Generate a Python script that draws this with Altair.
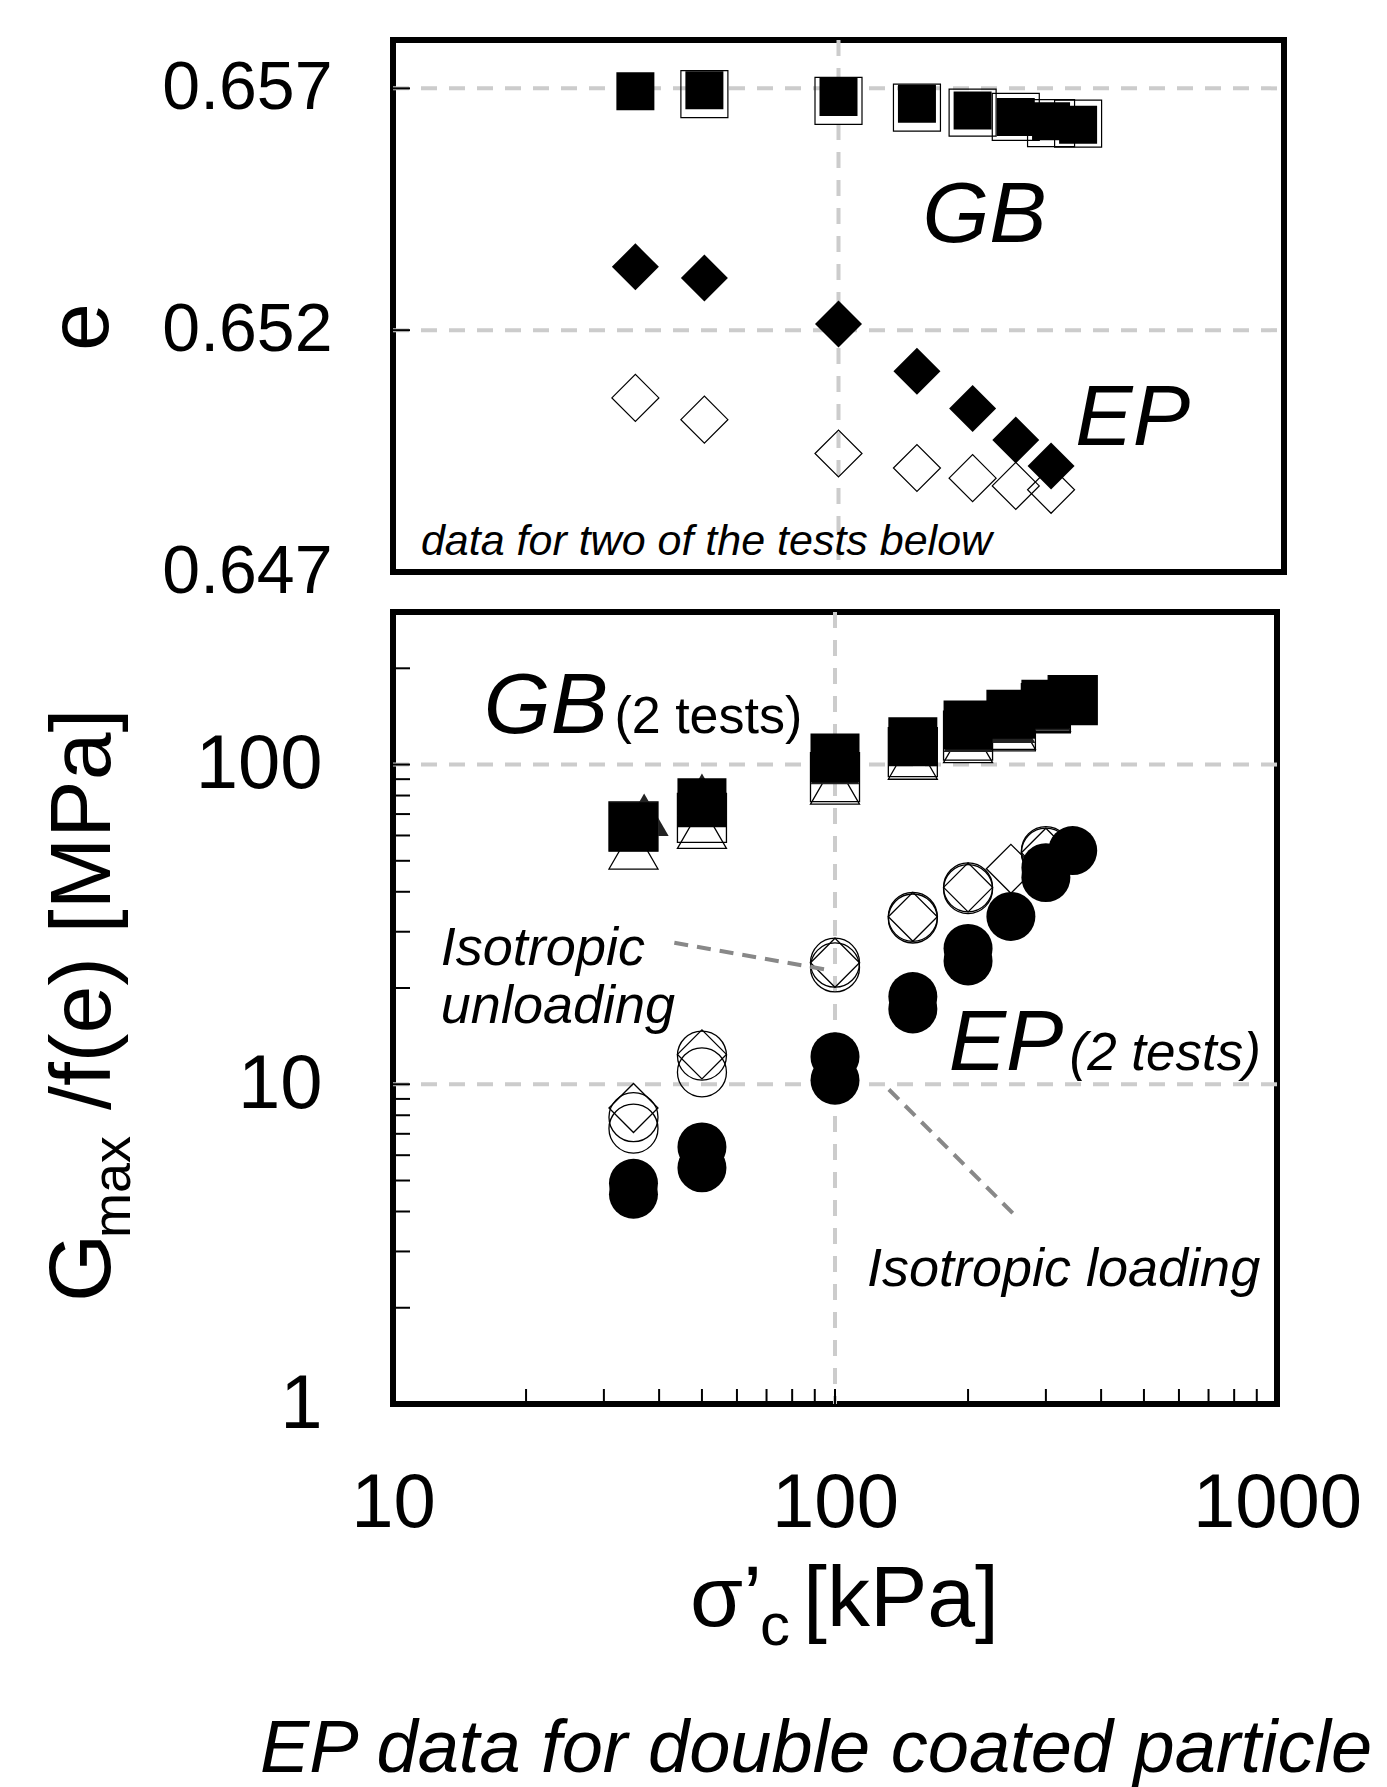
import altair as alt
import pandas as pd

FONT = "Liberation Sans, Arial, Helvetica, sans-serif"

# ---------------- upper panel : void ratio e ----------------
GB_E_LOAD_X = [35, 50, 100, 150, 200, 250, 300, 345]
GB_E_LOAD = [0.65694, 0.65696, 0.65682, 0.65668, 0.65654, 0.65641, 0.65632, 0.65625]
GB_E_UNLOAD_X = [50, 100, 150, 200, 250, 300, 345]
GB_E_UNLOAD = [0.65688, 0.65674, 0.65660, 0.65650, 0.65641, 0.65628, 0.65627]
EP_E_X = [35, 50, 100, 150, 200, 250, 300]
EP_E_LOAD = [0.65331, 0.65308, 0.65213, 0.65115, 0.65038, 0.64973, 0.64919]
EP_E_UNLOAD = [0.65060, 0.65015, 0.64945, 0.64915, 0.64894, 0.64878, 0.64870]

# ---------------- lower panel : Gmax / f(e) [MPa] ----------------
GB1_LOAD_X = [35, 50, 100, 150, 200, 250, 300, 345]
GB1_LOAD = [63.9, 75.9, 104.8, 117.9, 133.0, 143.7, 154.4, 159.7]
GB1_UNLOAD_X = [35, 50, 100, 150, 200, 250, 300, 345]
GB1_UNLOAD = [64.0, 68.1, 91.4, 109.4, 123.1, 131.6, 150.0, 159.0]
GB2_LOAD_X = [37, 50, 100, 150, 200, 250, 300, 345]
GB2_LOAD = [69.7, 80.5, 101.1, 116.7, 127.5, 136.0, 148.6, 158.0]
GB2_UNLOAD_X = [35, 50, 100, 150, 200, 250, 300]
GB2_UNLOAD = [54.9, 63.7, 87.6, 104.8, 118.1, 130.0, 148.0]

EP1_LOAD_X = [35, 50, 100, 150, 200, 250, 300, 345]
EP1_LOAD = [4.90, 6.37, 12.2, 18.8, 26.6, 33.5, 47.6, 53.8]
EP2_LOAD_X = [35, 50, 100, 150, 200, 300]
EP2_LOAD = [4.53, 5.48, 10.3, 17.2, 24.3, 44.3]
EP1_UNLOAD_X = [35, 50, 100, 150, 200, 300]
EP1_UNLOAD_A = [7.89, 12.3, 24.0, 33.4, 41.3, 53.6]
EP1_UNLOAD_B = [7.27, 10.9, 23.2, 33.0, 40.8, 53.0]
EP2_UNLOAD_X = [35, 50, 100, 150, 200, 250, 300]
EP2_UNLOAD = [8.43, 12.4, 24.0, 33.4, 41.3, 47.2, 53.0]

# leader lines (data coordinates)
UNLOAD_LEADER_X = [43.3, 96.1]
UNLOAD_LEADER_Y = [27.7, 22.8]
LOAD_LEADER_X = [132.4, 260.2]
LOAD_LEADER_Y = [9.63, 3.79]

# ticks / labels / grid
TOP_Y_LABELS = [0.647, 0.652, 0.657]
TOP_Y_TICKS = [0.652, 0.657]
TOP_GRID_X = [100]
TOP_GRID_Y = [0.652, 0.657]
BOT_Y_LABELS = [1, 10, 100]
BOT_Y_TICKS = [2, 3, 4, 5, 6, 7, 8, 9, 10, 20, 30, 40, 50, 60, 70, 80, 90, 100, 200]
BOT_X_LABELS = [10, 100, 1000]
BOT_X_TICKS = [20, 30, 40, 50, 60, 70, 80, 90, 100, 200, 300, 400, 500, 600, 700, 800, 900]
BOT_GRID_X = [100]
BOT_GRID_Y = [10, 100]

TOP_W, TOP_H = 891, 532
BOT_W, BOT_H = 884, 792

XS_TOP = alt.Scale(type="log", domain=[10, 1000], nice=False)
XS_BOT = alt.Scale(type="log", domain=[10, 1000], nice=False)
YS_TOP = alt.Scale(type="linear", domain=[0.647, 0.658], nice=False, zero=False)
YS_BOT = alt.Scale(type="log", domain=[1, 300], nice=False)

AX_TOP_X = alt.Axis(values=[100], labels=False, ticks=False, domain=False, grid=False, title=None)
AX_TOP_Y = alt.Axis(values=TOP_Y_LABELS, format=".3f", labelFont=FONT, labelFontSize=68,
                    labelPadding=61, labelColor="black", labelOverlap=False,
                    ticks=False, domain=False, grid=False, title=None)
AX_BOT_X = alt.Axis(values=BOT_X_LABELS, format="d", labelFont=FONT, labelFontSize=76,
                    labelPadding=62, labelColor="black", labelFlush=False, labelOverlap=False,
                    ticks=False, domain=False, grid=False, title=None)
AX_BOT_Y = alt.Axis(values=BOT_Y_LABELS, format="d", labelFont=FONT, labelFontSize=76,
                    labelPadding=71, labelColor="black", labelOverlap=False,
                    ticks=False, domain=False, grid=False, title=None)

TOP = (XS_TOP, YS_TOP, AX_TOP_X, AX_TOP_Y)
BOT = (XS_BOT, YS_BOT, AX_BOT_X, AX_BOT_Y)

GRID_STYLE = dict(color="#cccccc", strokeWidth=4, strokeDash=[16, 12])


def enc_xy(panel, xf="x", yf="y"):
    xs, ys, ax, ay = panel
    return dict(x=alt.X(f"{xf}:Q", scale=xs, axis=ax), y=alt.Y(f"{yf}:Q", scale=ys, axis=ay))


def points(panel, xv, yv, shape, size, filled, color="black", sw=1.3):
    df = pd.DataFrame({"x": xv, "y": yv})
    if filled:
        m = alt.Chart(df).mark_point(shape=shape, size=size, filled=True, fill=color,
                                     fillOpacity=1, opacity=1, strokeWidth=0)
    else:
        m = alt.Chart(df).mark_point(shape=shape, size=size, filled=False, stroke=color,
                                     strokeWidth=sw, opacity=1, fillOpacity=0)
    return m.encode(**enc_xy(panel))


def note(panel, text, xv, yv, size, italic=True, align="left"):
    df = pd.DataFrame({"x": [xv], "y": [yv], "t": [text]})
    return alt.Chart(df).mark_text(
        align=align, baseline="alphabetic", font=FONT, fontSize=size,
        fontStyle="italic" if italic else "normal", color="black"
    ).encode(text="t:N", **enc_xy(panel))


def pix_text(text, px, py, size, angle=0, italic=False, align="left", limit=0):
    df = pd.DataFrame({"t": [text]})
    kw = {}
    if limit:
        kw = dict(limit=limit, ellipsis="\u200b")
    return alt.Chart(df).mark_text(
        align=align, baseline="alphabetic", font=FONT, fontSize=size, angle=angle,
        fontStyle="italic" if italic else "normal", color="black", **kw
    ).encode(text="t:N", x=alt.value(px), y=alt.value(py))


def yticks(panel, vals, length=17):
    xs, ys, ax, ay = panel
    df = pd.DataFrame({"v": vals})
    return alt.Chart(df).mark_rule(color="black", strokeWidth=2).encode(
        y=alt.Y("v:Q", scale=ys, axis=ay), x=alt.value(0), x2=alt.value(length))


def xticks(panel, vals, h, length=15):
    xs, ys, ax, ay = panel
    df = pd.DataFrame({"v": vals})
    return alt.Chart(df).mark_rule(color="black", strokeWidth=2).encode(
        x=alt.X("v:Q", scale=xs, axis=ax), y=alt.value(h), y2=alt.value(h - length))


def grid_x(panel, vals, h):
    xs, ys, ax, ay = panel
    df = pd.DataFrame({"v": vals})
    return alt.Chart(df).mark_rule(**GRID_STYLE).encode(
        x=alt.X("v:Q", scale=xs, axis=ax), y=alt.value(0), y2=alt.value(h))


def grid_y(panel, vals, w):
    xs, ys, ax, ay = panel
    df = pd.DataFrame({"v": vals})
    return alt.Chart(df).mark_rule(**GRID_STYLE).encode(
        y=alt.Y("v:Q", scale=ys, axis=ay), x=alt.value(0), x2=alt.value(w))


def leader(panel, xv, yv):
    df = pd.DataFrame({"x": xv, "y": yv, "o": list(range(len(xv)))})
    return alt.Chart(df).mark_line(color="#888888", strokeWidth=4, strokeDash=[14, 9]).encode(
        order="o:Q", **enc_xy(panel))


top = alt.layer(
    grid_x(TOP, TOP_GRID_X, TOP_H),
    grid_y(TOP, TOP_GRID_Y, TOP_W),
    points(TOP, GB_E_UNLOAD_X, GB_E_UNLOAD, "square", 2209, False, sw=1.2),
    points(TOP, GB_E_LOAD_X, GB_E_LOAD, "square", 1444, True),
    points(TOP, EP_E_X, EP_E_UNLOAD, "diamond", 2209, False, sw=1.2),
    points(TOP, EP_E_X, EP_E_LOAD, "diamond", 2209, True),
    yticks(TOP, TOP_Y_TICKS),
    note(TOP, "GB", 154.3, 0.653818, 86),
    note(TOP, "EP", 340.0, 0.649616, 86),
    note(TOP, "data for two of the tests below", 11.55, 0.64735, 43),
    pix_text("e", -285, 287, 86, angle=270, align="center"),
).properties(width=TOP_W, height=TOP_H)

bottom = alt.layer(
    grid_x(BOT, BOT_GRID_X, BOT_H),
    grid_y(BOT, BOT_GRID_Y, BOT_W),
    points(BOT, GB2_UNLOAD_X, GB2_UNLOAD, "triangle-up", 2401, False),
    points(BOT, GB1_UNLOAD_X, GB1_UNLOAD, "square", 2401, False),
    points(BOT, GB2_LOAD_X, GB2_LOAD, "triangle-up", 2401, True, color="#222222"),
    points(BOT, GB1_LOAD_X, GB1_LOAD, "square", 2401, True),
    points(BOT, EP1_UNLOAD_X, EP1_UNLOAD_A, "circle", 2401, False),
    points(BOT, EP1_UNLOAD_X, EP1_UNLOAD_B, "circle", 2401, False),
    points(BOT, EP2_UNLOAD_X, EP2_UNLOAD, "diamond", 2401, False),
    points(BOT, EP2_LOAD_X, EP2_LOAD, "circle", 2401, True),
    points(BOT, EP1_LOAD_X, EP1_LOAD, "circle", 2401, True),
    leader(BOT, UNLOAD_LEADER_X, UNLOAD_LEADER_Y),
    leader(BOT, LOAD_LEADER_X, LOAD_LEADER_Y),
    note(BOT, "GB", 16.05, 125.8, 86),
    note(BOT, "(2 tests)", 31.7, 125.8, 52, italic=False),
    note(BOT, "EP", 180.8, 11.1, 86),
    note(BOT, "(2 tests)", 339.3, 11.1, 53),
    note(BOT, "Isotropic", 12.83, 23.6, 54),
    note(BOT, "unloading", 12.83, 15.5, 54),
    note(BOT, "Isotropic loading", 118.1, 2.34, 54),
    yticks(BOT, BOT_Y_TICKS),
    xticks(BOT, BOT_X_TICKS, BOT_H),
    # y-axis title  G_max /f(e) [MPa]
    pix_text("G", -283, 690, 88, angle=270),
    pix_text("max", -263, 626, 54, angle=270),
    pix_text("/f(e) [MPa]", -283, 498, 86, angle=270),
    # x-axis title  sigma'_c [kPa]
    pix_text("σ’", 297, 1014, 86),
    pix_text("c", 367, 1033, 60),
    pix_text("[kPa]", 410, 1014, 86),
    # caption (cut at the right edge as in the original figure)
    pix_text("EP data for double coated particles", -133, 1160, 74, italic=True, limit=1125),
).properties(width=BOT_W, height=BOT_H)

chart = (
    alt.vconcat(top, bottom, spacing=40, bounds="flush")
    .properties(padding={"left": 36, "top": 35, "right": 0, "bottom": 0}, background="white")
    .configure_view(stroke="black", strokeWidth=6)
)

chart.save("out.html", embed_options={"renderer": "svg", "actions": False})
